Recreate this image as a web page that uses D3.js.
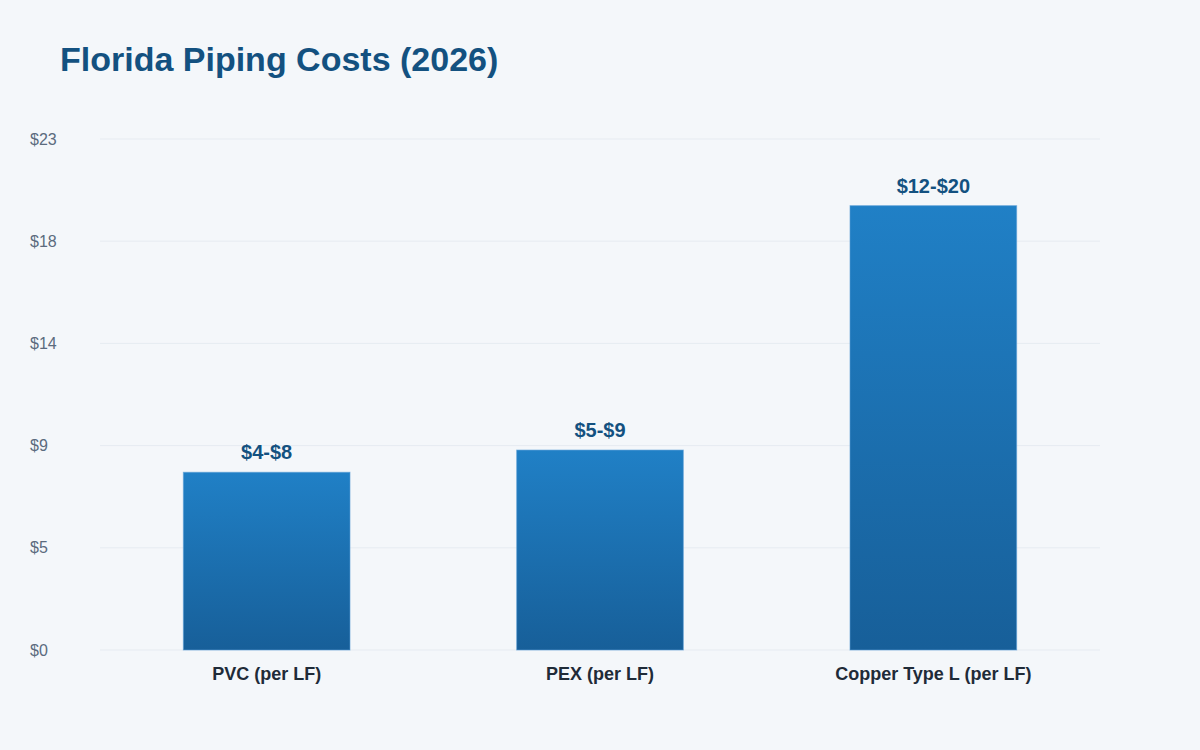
<!DOCTYPE html>
<html>
<head>
<meta charset="utf-8">
<script src="https://cdn.jsdelivr.net/npm/d3@7"></script>
<style>
  html, body { margin: 0; padding: 0; background: #f4f7fa; }
  body { width: 1200px; height: 750px; overflow: hidden; font-family: "Liberation Sans", Arial, Helvetica, sans-serif; }
</style>
</head>
<body>
<svg id="chart" width="1200" height="750"></svg>
<script>
// chart data
const categories = ["PVC (per LF)", "PEX (per LF)", "Copper Type L (per LF)"];
const highValues = [8, 9, 20];
const rangeLabels = ["$4-$8", "$5-$9", "$12-$20"];
const yMax = 23;

const svg = d3.select('#chart');
const margin = { top: 139, right: 100, bottom: 100, left: 100 };
const width = 1200 - margin.left - margin.right;
const height = 750 - margin.top - margin.bottom;

svg.append('rect').attr('width', 1200).attr('height', 750).attr('fill', '#f4f7fa');

const defs = svg.append('defs');
const grad = defs.append('linearGradient')
  .attr('id', 'barGrad')
  .attr('x1', 0).attr('y1', 0).attr('x2', 0).attr('y2', 1);
grad.append('stop').attr('offset', '0%').attr('stop-color', '#2080c6');
grad.append('stop').attr('offset', '100%').attr('stop-color', '#175f99');

svg.append('text')
  .attr('x', 60).attr('y', 71)
  .attr('fill', '#135180')
  .style('font-size', '34px')
  .style('font-weight', 'bold')
  .text('Florida Piping Costs (2026)');

const g = svg.append('g').attr('transform', `translate(${margin.left},${margin.top})`);

const x = d3.scaleBand().domain(categories).range([0, width]).paddingInner(0.5).paddingOuter(0.25);
const y = d3.scaleLinear().domain([0, yMax]).range([height, 0]);

const ticks = d3.range(0, 6).map(i => yMax * i / 5);

// gridlines
g.append('g')
  .selectAll('line')
  .data(ticks)
  .join('line')
  .attr('x1', 0).attr('x2', width)
  .attr('y1', d => y(d)).attr('y2', d => y(d))
  .attr('stroke', '#e6ebf1')
  .attr('stroke-width', 1);

// y axis labels
const yAxis = g.append('g')
  .attr('transform', 'translate(-70,0)')
  .call(d3.axisRight(y).tickValues(ticks).tickSize(0).tickFormat(d => '$' + Math.round(d)));
yAxis.select('.domain').remove();
yAxis.selectAll('text')
  .attr('x', 0)
  .attr('fill', '#5b6b7e')
  .style('font-size', '16px')
  .style('font-family', '"Liberation Sans", Arial, sans-serif');

// x axis labels
const xAxis = g.append('g')
  .attr('transform', `translate(0,${height})`)
  .call(d3.axisBottom(x).tickSize(0).tickPadding(17));
xAxis.select('.domain').remove();
xAxis.selectAll('text')
  .attr('fill', '#1f2b38')
  .style('font-size', '18px')
  .style('font-weight', 'bold')
  .style('font-family', '"Liberation Sans", Arial, sans-serif');

const data = categories.map((c, i) => ({ c, v: highValues[i], label: rangeLabels[i] }));

// bars
g.selectAll('.bar')
  .data(data)
  .join('rect')
  .attr('class', 'bar')
  .attr('x', d => x(d.c))
  .attr('y', d => y(d.v))
  .attr('width', x.bandwidth())
  .attr('height', d => height - y(d.v))
  .attr('fill', 'url(#barGrad)')
  .attr('stroke', '#5a9fd6')
  .attr('stroke-width', 1)
  .attr('stroke-opacity', 0.6);

// value labels
g.selectAll('.val')
  .data(data)
  .join('text')
  .attr('class', 'val')
  .attr('x', d => x(d.c) + x.bandwidth() / 2)
  .attr('y', d => y(d.v) - 13)
  .attr('text-anchor', 'middle')
  .attr('fill', '#135180')
  .style('font-size', '20px')
  .style('font-weight', 'bold')
  .text(d => d.label);
</script>
</body>
</html>
